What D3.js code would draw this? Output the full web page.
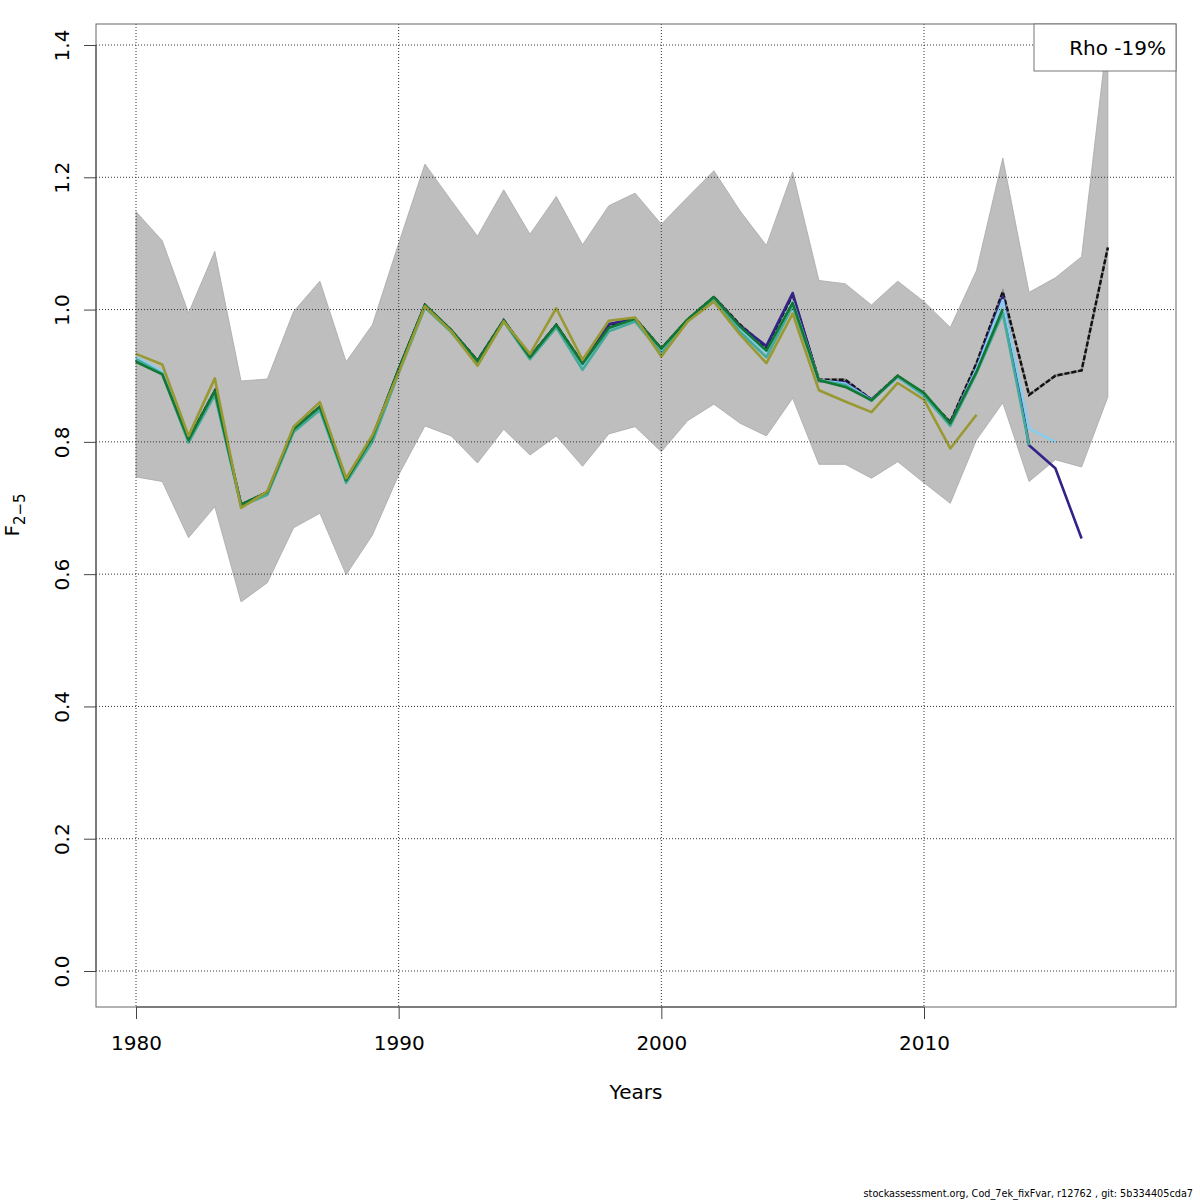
<!DOCTYPE html>
<html>
<head>
<meta charset="utf-8">
<script src="https://cdn.jsdelivr.net/npm/d3@7"></script>
<style>
  html, body { margin: 0; padding: 0; background: #fff; }
  svg { display: block; font-family: "DejaVu Sans", sans-serif; }
</style>
</head>
<body>
<svg id="chart" width="1200" height="1200"></svg>
<script>
// ---- data ----
const years = [1980,1981,1982,1983,1984,1985,1986,1987,1988,1989,1990,1991,1992,1993,1994,1995,1996,1997,1998,1999,2000,2001,2002,2003,2004,2005,2006,2007,2008,2009,2010,2011,2012,2013,2014,2015,2016,2017];

const upper = [1.148,1.104,0.995,1.088,0.892,0.895,0.997,1.043,0.921,0.977,1.100,1.220,1.165,1.111,1.181,1.114,1.171,1.098,1.157,1.176,1.129,1.170,1.210,1.149,1.097,1.208,1.044,1.039,1.007,1.043,1.012,0.973,1.059,1.229,1.026,1.048,1.080,1.42];
const lower = [0.747,0.740,0.655,0.702,0.558,0.587,0.670,0.692,0.599,0.659,0.750,0.824,0.809,0.768,0.819,0.780,0.809,0.763,0.812,0.823,0.785,0.832,0.857,0.828,0.809,0.866,0.766,0.766,0.745,0.770,0.738,0.707,0.803,0.859,0.740,0.773,0.762,0.868];

const base = [0.923,0.904,0.804,0.877,0.705,0.724,0.819,0.853,0.742,0.807,0.910,1.007,0.969,0.923,0.984,0.929,0.977,0.919,0.974,0.987,0.941,0.985,1.019,0.977,0.943,1.022,0.894,0.894,0.864,0.900,0.871,0.830,0.919,1.027,0.871,0.900,0.908,1.094];

const peel1 = [0.923,0.904,0.803,0.876,0.705,0.723,0.818,0.852,0.741,0.806,0.909,1.006,0.968,0.922,0.983,0.928,0.976,0.917,0.978,0.986,0.940,0.984,1.018,0.975,0.945,1.025,0.892,0.890,0.864,0.898,0.870,0.828,0.912,1.020,0.795,0.760,0.654];
const peel2 = [0.928,0.906,0.801,0.874,0.704,0.722,0.816,0.849,0.739,0.802,0.906,1.004,0.967,0.920,0.982,0.927,0.975,0.912,0.970,0.984,0.936,0.983,1.017,0.970,0.935,1.012,0.893,0.888,0.863,0.898,0.869,0.826,0.910,1.014,0.820,0.800];
const peel3 = [0.925,0.903,0.799,0.871,0.703,0.720,0.815,0.848,0.738,0.800,0.904,1.003,0.966,0.918,0.982,0.925,0.973,0.909,0.967,0.982,0.934,0.982,1.016,0.966,0.928,1.005,0.893,0.886,0.862,0.899,0.870,0.824,0.904,0.995,0.795];
const peel4 = [0.921,0.902,0.803,0.877,0.705,0.724,0.819,0.853,0.742,0.807,0.910,1.007,0.969,0.922,0.984,0.928,0.977,0.918,0.972,0.986,0.941,0.985,1.019,0.974,0.938,1.010,0.893,0.883,0.863,0.900,0.874,0.828,0.906,1.001];
const peel5 = [0.933,0.917,0.809,0.896,0.700,0.725,0.823,0.860,0.745,0.810,0.905,1.005,0.967,0.915,0.982,0.933,1.002,0.924,0.983,0.988,0.929,0.982,1.012,0.962,0.919,0.994,0.878,0.861,0.845,0.889,0.864,0.790,0.841];

const peels = [peel1, peel2, peel3, peel4, peel5];
const peelColors = ["#332288", "#88CCEE", "#44AA99", "#117733", "#999933"];

const xTicks = [1980, 1990, 2000, 2010];
const yTicks = [0, 0.2, 0.4, 0.6, 0.8, 1.0, 1.2, 1.4];
const legendText = "Rho -19%";
const footerText = "stockassessment.org, Cod_7ek_fixFvar, r12762 , git: 5b334405cda7";

// ---- layout ----
const svg = d3.select("#chart");
const box = {left: 96, top: 24, right: 1176, bottom: 1007};

const x = d3.scaleLinear().domain([1980, 2010]).range([136, 924]);
const y = d3.scaleLinear().domain([0, 1.4]).range([971, 45]);

svg.append("defs").append("clipPath").attr("id", "clip")
  .append("rect").attr("x", box.left).attr("y", box.top)
  .attr("width", box.right - box.left).attr("height", box.bottom - box.top);

const plot = svg.append("g").attr("clip-path", "url(#clip)");

// band
const area = d3.area()
  .x((d, i) => x(years[i]))
  .y0((d, i) => y(lower[i]))
  .y1((d, i) => y(upper[i]));
plot.append("path").datum(years)
  .attr("d", area)
  .attr("fill", "#bebebe")
  .attr("stroke", "#a8a8a8")
  .attr("stroke-width", 0.8);

// grid
const grid = svg.append("g");
xTicks.forEach(t => grid.append("line")
  .attr("x1", x(t)).attr("x2", x(t)).attr("y1", box.top).attr("y2", box.bottom)
  .attr("stroke", "#333").attr("stroke-width", 1).attr("stroke-dasharray", "1,2"));
yTicks.forEach(t => grid.append("line")
  .attr("x1", box.left).attr("x2", box.right).attr("y1", y(t)).attr("y2", y(t))
  .attr("stroke", "#333").attr("stroke-width", 1).attr("stroke-dasharray", "1,2"));

// lines
const line = d3.line().x((d, i) => x(years[i])).y(d => y(d));

plot.append("path").datum(base).attr("d", line)
  .attr("fill", "none").attr("stroke", "#8a8a8a").attr("stroke-width", 2.4);
plot.append("path").datum(base).attr("d", line)
  .attr("fill", "none").attr("stroke", "#111").attr("stroke-width", 2.4)
  .attr("stroke-dasharray", "5,2");

peels.forEach((p, k) => {
  plot.append("path").datum(p).attr("d", line)
    .attr("fill", "none").attr("stroke", peelColors[k])
    .attr("stroke-width", 2.6).attr("stroke-linejoin", "round");
});

// box
svg.append("rect").attr("x", box.left).attr("y", box.top)
  .attr("width", box.right - box.left).attr("height", box.bottom - box.top)
  .attr("fill", "none").attr("stroke", "#666").attr("stroke-width", 1);

// axes
const xAxis = d3.axisBottom(x).tickValues(xTicks).tickFormat(d3.format("d")).tickSize(12).tickPadding(17);
const gx = svg.append("g").attr("transform", `translate(0,${box.bottom})`).call(xAxis);
gx.select(".domain").attr("stroke", "#444").attr("d", `M${x(1980)},0H${x(2010)}`);
gx.selectAll(".tick line").attr("stroke", "#444");
gx.selectAll("text").attr("font-size", 20).attr("fill", "#000")
  .attr("font-family", "DejaVu Sans, sans-serif");

const yAxis = d3.axisLeft(y).tickValues(yTicks).tickFormat(d3.format(".1f")).tickSize(12);
const gy = svg.append("g").attr("transform", `translate(${box.left},0)`).call(yAxis);
gy.select(".domain").attr("stroke", "#444").attr("d", `M0,${y(0)}V${y(1.4)}`);
gy.selectAll(".tick line").attr("stroke", "#444");
gy.selectAll(".tick text")
  .attr("font-size", 20).attr("fill", "#000")
  .attr("font-family", "DejaVu Sans, sans-serif")
  .attr("x", null).attr("dy", null)
  .attr("text-anchor", "middle")
  .attr("transform", "translate(-27,0) rotate(-90)")
  .attr("y", 0).attr("dominant-baseline", "auto");

// axis titles
svg.append("text").attr("x", 636).attr("y", 1099)
  .attr("text-anchor", "middle").attr("font-size", 20).text("Years");

const yl = svg.append("text")
  .attr("transform", "translate(19,515) rotate(-90)")
  .attr("text-anchor", "middle").attr("font-size", 20);
yl.append("tspan").text("F");
yl.append("tspan").attr("font-size", 15).attr("dy", 6).text("2\u22125");

// legend
svg.append("rect").attr("x", 1034).attr("y", box.top).attr("width", box.right - 1034).attr("height", 47)
  .attr("fill", "#fff").attr("stroke", "#777").attr("stroke-width", 1);
svg.append("text").attr("x", 1166).attr("y", 55).attr("text-anchor", "end")
  .attr("font-size", 20).text(legendText);

// footer
svg.append("text").attr("x", 1193).attr("y", 1197).attr("text-anchor", "end")
  .attr("font-size", 9.7).text(footerText);
</script>
</body>
</html>
